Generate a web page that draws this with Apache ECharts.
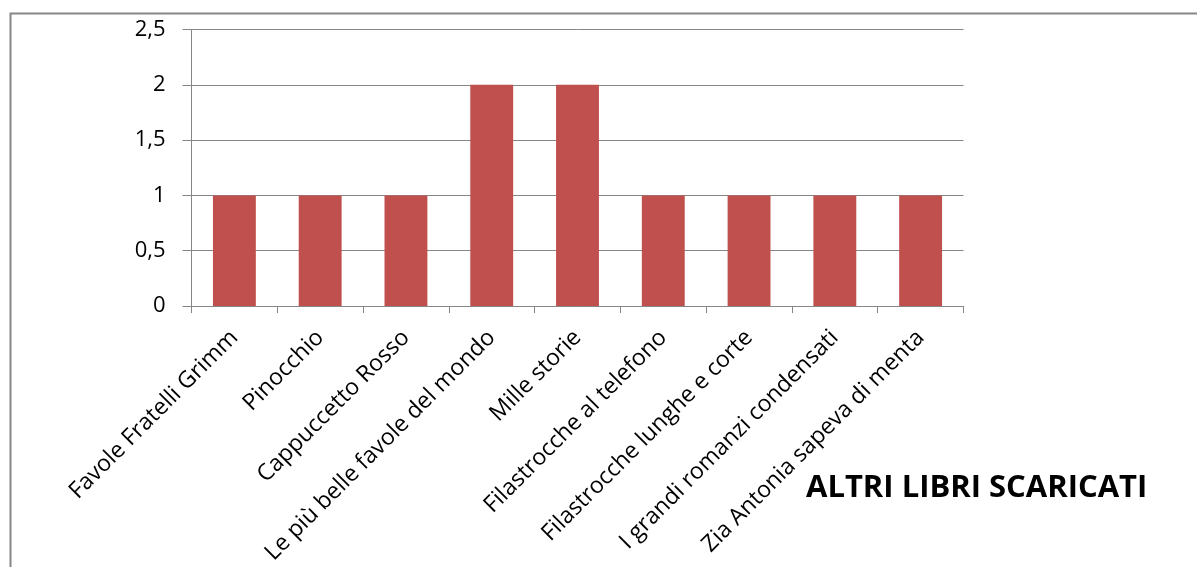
<!DOCTYPE html>
<html><head><meta charset="utf-8">
<script src="https://cdn.jsdelivr.net/npm/echarts@6/dist/echarts.min.js"></script>
<style>html,body{margin:0;padding:0;background:#fff}#c{width:1197px;height:567px}</style>
</head><body><div id="c"></div>
<script>
const categories = ["Favole Fratelli Grimm","Pinocchio","Cappuccetto Rosso","Le più belle favole del mondo","Mille storie","Filastrocche al telefono","Filastrocche lunghe e corte","I grandi romanzi condensati","Zia Antonia sapeva di menta"];
const values = [1,1,1,2,2,1,1,1,1];
const titleText = "ALTRI LIBRI SCARICATI";
const chart = echarts.init(document.getElementById('c'), null, {renderer:'canvas'});
chart.setOption({
  animation:false,
  backgroundColor:'#fff',
  title:{text:titleText,left:801,top:468,textStyle:{fontFamily:'Open Sans',fontWeight:'bold',fontSize:31,color:'#000'}},
  graphic:[{type:'rect',shape:{x:10.5,y:13.5,width:1250,height:700},style:{fill:null,stroke:'#868686',lineWidth:2},silent:true}],
  grid:{left:191.5,right:233.5,top:29.5,bottom:261,containLabel:false},
  xAxis:{type:'category',data:categories,
    axisLine:{lineStyle:{color:'#868686',width:1}},
    axisTick:{show:true,length:7,lineStyle:{color:'#868686'}},
    axisLabel:{rotate:45,interval:0,margin:28,color:'#000',fontFamily:'Open Sans',fontSize:23}},
  yAxis:{type:'value',min:0,max:2.5,interval:0.5,
    axisLine:{show:true,lineStyle:{color:'#868686',width:1}},
    axisTick:{show:true,length:9,lineStyle:{color:'#868686'}},
    splitLine:{show:true,lineStyle:{color:'#868686',width:1}},
    axisLabel:{margin:26,color:'#000',fontFamily:'Open Sans',fontSize:22,formatter:v=>String(v).replace('.',',')}},
  series:[{type:'bar',data:values,barCategoryGap:'50%',itemStyle:{color:'#C0504D'}}]
});
</script></body></html>
